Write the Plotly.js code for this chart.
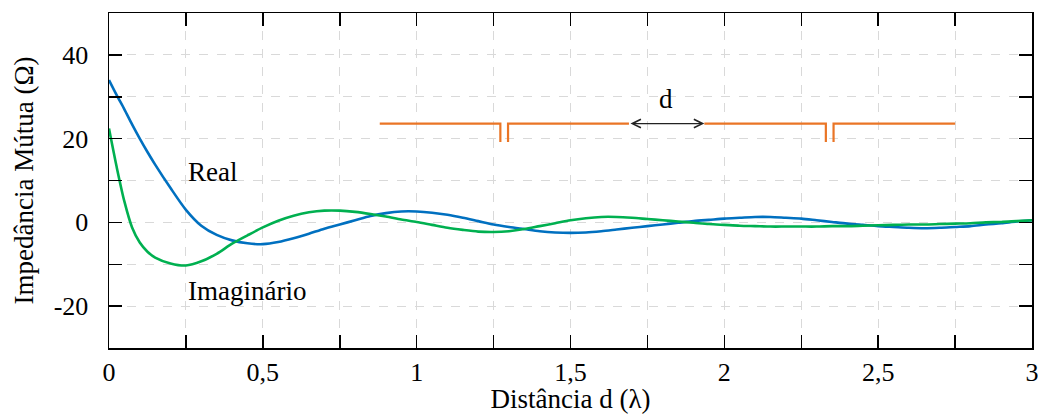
<!DOCTYPE html>
<html>
<head>
<meta charset="utf-8">
<script src="https://cdn.plot.ly/plotly-3.0.1.min.js"></script>
<style>
html,body{margin:0;padding:0;background:#fff;}
#chart{width:1038px;height:414px;}
</style>
</head>
<body>
<div id="chart"></div>
<script>
// ---- data ----
const distance = [0, 0.025, 0.05, 0.075, 0.1, 0.125, 0.15, 0.2, 0.25, 0.3, 0.35, 0.4, 0.45, 0.5, 0.55, 0.6, 0.65, 0.7, 0.75, 0.8, 0.85, 0.9, 0.95, 1.0, 1.05, 1.1, 1.15, 1.2, 1.25, 1.3, 1.35, 1.4, 1.45, 1.5, 1.55, 1.6, 1.65, 1.7, 1.75, 1.8, 1.85, 1.9, 1.95, 2.0, 2.05, 2.1, 2.15, 2.2, 2.25, 2.3, 2.35, 2.4, 2.45, 2.5, 2.55, 2.6, 2.65, 2.7, 2.75, 2.8, 2.85, 2.9, 2.95, 3.0];
const realPart = [34, 30.4, 27, 23.4, 20, 16.8, 13.8, 8.2, 3.0, -0.8, -3.0, -4.3, -5.0, -5.2, -4.7, -3.8, -2.7, -1.5, -0.5, 0.5, 1.5, 2.2, 2.6, 2.6, 2.3, 1.8, 1.1, 0.3, -0.5, -1.1, -1.6, -2.1, -2.4, -2.5, -2.4, -2.1, -1.7, -1.3, -0.9, -0.5, -0.1, 0.3, 0.6, 0.9, 1.1, 1.3, 1.3, 1.1, 0.9, 0.5, 0.1, -0.3, -0.6, -0.9, -1.1, -1.3, -1.4, -1.3, -1.1, -0.9, -0.5, -0.2, 0.2, 0.5];
const imagPart = [22.4, 13.2, 5.0, -1.2, -4.8, -7.0, -8.4, -9.8, -10.3, -9.3, -7.5, -5.1, -3.1, -1.2, 0.4, 1.6, 2.4, 2.8, 2.8, 2.5, 2.0, 1.4, 0.7, 0.1, -0.6, -1.3, -1.8, -2.2, -2.3, -2.1, -1.6, -0.9, -0.2, 0.5, 1.0, 1.3, 1.3, 1.1, 0.8, 0.5, 0.2, -0.1, -0.4, -0.6, -0.8, -0.9, -1.0, -1.0, -1.0, -1.0, -0.9, -0.9, -0.8, -0.7, -0.6, -0.5, -0.5, -0.4, -0.3, -0.2, 0.0, 0.1, 0.3, 0.5];

const xTickVals = [0, 0.25, 0.5, 0.75, 1, 1.25, 1.5, 1.75, 2, 2.25, 2.5, 2.75, 3];
const xTickText = ['0', '', '0,5', '', '1', '', '1,5', '', '2', '', '2,5', '', '3'];
const yTickVals = [-20, -10, 0, 10, 20, 30, 40];
const yTickText = ['-20', '', '0', '', '20', '', '40'];

// dipole sketch (in data units)
const dipoleLeftX = [0.88, 1.272, 1.297, 1.69];
const dipoleRightX = [1.935, 2.33, 2.355, 2.75];
const dipoleLevel = 23.6;
const feedBottom = 19.2;
const dLabel = {x: 1.81, y: 29.5, text: 'd'};
const realLabel = {x: 0.25, y: 12.0, text: 'Real'};
const imagLabel = {x: 0.25, y: -16.3, text: 'Imaginário'};

function dipoleTrace(xs) {
  return {
    x: [xs[0], xs[1], xs[1], null, xs[2], xs[2], xs[3]],
    y: [dipoleLevel, dipoleLevel, feedBottom, null, feedBottom, dipoleLevel, dipoleLevel],
    mode: 'lines', line: {color: '#EA7526', width: 2.2}, hoverinfo: 'skip', showlegend: false
  };
}

const traces = [
  {x: distance, y: realPart, mode: 'lines', name: 'Real',
   line: {color: '#0070C0', width: 2.6, shape: 'spline', smoothing: 0.8}},
  {x: distance, y: imagPart, mode: 'lines', name: 'Imaginário',
   line: {color: '#00B050', width: 2.6, shape: 'spline', smoothing: 0.8}},
  dipoleTrace(dipoleLeftX),
  dipoleTrace(dipoleRightX)
];

const family = 'Liberation Serif, Times New Roman, DejaVu Serif, serif';
const font = {family: family, size: 27, color: '#000'};
const tickFont = {family: family, size: 26, color: '#000'};

const layout = {
  width: 1038, height: 414,
  margin: {l: 109, r: 6, t: 13, b: 66},
  paper_bgcolor: '#fff', plot_bgcolor: '#fff',
  showlegend: false,
  separators: ',.',
  font: font,
  xaxis: {
    range: [0, 3], tickmode: 'array', tickvals: xTickVals, ticktext: xTickText,
    ticks: 'inside', ticklen: 13, tickwidth: 1.5, tickcolor: '#000',
    showline: true, linecolor: '#000', linewidth: 1.5, mirror: 'ticks',
    showgrid: true, gridcolor: '#D9D9D9', griddash: 'dash', gridwidth: 1,
    zeroline: false, tickfont: tickFont, ticklabelstandoff: 0, ticklabeloverflow: 'allow',
    title: {text: 'Distância d (λ)', font: font, standoff: 0}
  },
  yaxis: {
    range: [-30, 50], tickmode: 'array', tickvals: yTickVals, ticktext: yTickText,
    ticks: 'inside', ticklen: 13, tickwidth: 1.5, tickcolor: '#000',
    showline: true, linecolor: '#000', linewidth: 1.5, mirror: 'ticks',
    showgrid: true, gridcolor: '#D9D9D9', griddash: 'dash', gridwidth: 1,
    zeroline: false, tickfont: tickFont, ticklabelstandoff: 14,
    title: {text: 'Impedância Mútua (Ω)', font: font, standoff: 12}
  },
  annotations: [
    {x: realLabel.x, y: realLabel.y, text: realLabel.text, showarrow: false, xanchor: 'left', yanchor: 'middle', font: font},
    {x: imagLabel.x, y: imagLabel.y, text: imagLabel.text, showarrow: false, xanchor: 'left', yanchor: 'middle', font: font},
    {x: dLabel.x, y: dLabel.y, text: dLabel.text, showarrow: false, xanchor: 'center', yanchor: 'middle', font: font},
    {x: dipoleRightX[0], y: dipoleLevel, ax: dipoleLeftX[3], ay: dipoleLevel, axref: 'x', ayref: 'y',
     showarrow: true, arrowhead: 5, arrowside: 'end+start', arrowsize: 1.3, arrowwidth: 1.3, arrowcolor: '#222', text: ''}
  ]
};

Plotly.newPlot('chart', traces, layout, {staticPlot: true, displayModeBar: false});
</script>
</body>
</html>
